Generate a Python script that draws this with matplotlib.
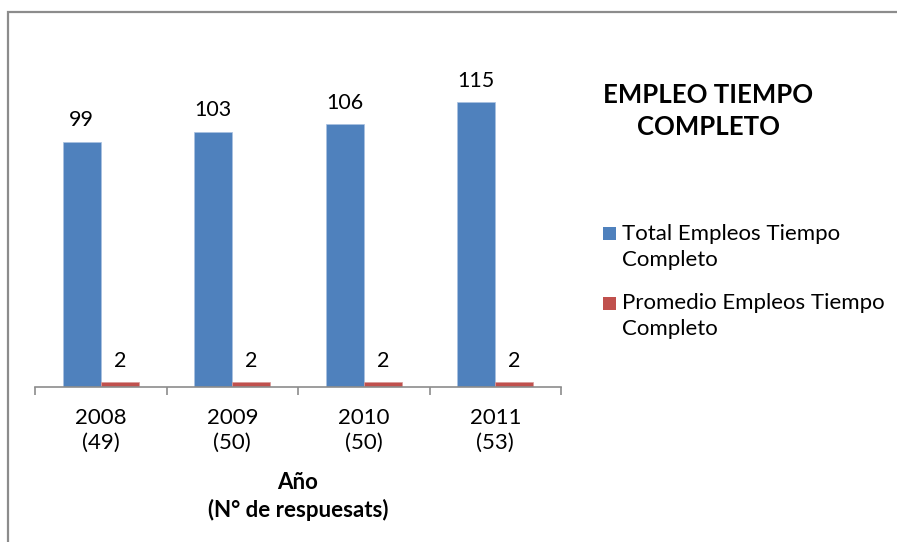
import numpy as np
import matplotlib
matplotlib.use("Agg")
import matplotlib.pyplot as plt
from matplotlib.patches import Rectangle

years = ["2008", "2009", "2010", "2011"]
responses = [49, 50, 50, 53]
total_empleos = [99, 103, 106, 115]
promedio_empleos = [2, 2, 2, 2]
series_names = ["Total Empleos Tiempo\nCompleto", "Promedio Empleos Tiempo\nCompleto"]
colors = ["#4F81BD", "#C0504D"]

plt.rcParams["font.family"] = ["Lato", "DejaVu Sans"]

W, H = 897, 542
fig = plt.figure(figsize=(W / 100, H / 100), dpi=100)
fig.patch.set_facecolor("white")

# outer chart frame (only top and left edges visible in the crop)
fig.patches.append(Rectangle((8 / W, -0.1), 1.2, 1.1 - 12 / H, transform=fig.transFigure,
                             fill=False, edgecolor="#8c8c8c", linewidth=1.6))

ax = fig.add_axes([35 / W, (H - 387) / H, (561 - 35) / W, (387 - 40) / H])
x = np.arange(len(years))
w = 0.29
b1 = ax.bar(x - w / 2, total_empleos, w, color=colors[0], edgecolor="#a9c1e0", linewidth=0.5)
b2 = ax.bar(x + w / 2, promedio_empleos, w, color=colors[1], edgecolor="#d99a98", linewidth=0.5)
for bars, vals in ((b1, total_empleos), (b2, promedio_empleos)):
    for r, v in zip(bars, vals):
        ax.text(r.get_x() + r.get_width() / 2, v + 4.6, str(v), ha="center", va="bottom",
                fontsize=15.5, color="black")

ax.set_xlim(-0.5, len(years) - 0.5)
ax.set_ylim(0, 140)
for s in ("top", "right", "left"):
    ax.spines[s].set_visible(False)
ax.spines["bottom"].set_color("#8c8c8c")
ax.spines["bottom"].set_linewidth(1.2)
ax.set_yticks([])
ax.set_xticks(np.arange(len(years) + 1) - 0.5, minor=True)
ax.set_xticks(x)
ax.set_xticklabels([f"{y}\n({n})" for y, n in zip(years, responses)], fontsize=16,
                   linespacing=1.3)
ax.tick_params(axis="x", which="major", length=0, pad=15)
ax.tick_params(axis="x", which="minor", length=6, width=1.2, color="#8c8c8c")
ax.set_xlabel("Año\n(N° de respuesats)", fontsize=16, fontweight="bold", linespacing=1.35,
              labelpad=14)

fig.text(708 / W, 1 - 111 / H, "EMPLEO TIEMPO\nCOMPLETO", ha="center", va="center",
         fontsize=18.5, fontweight="bold", linespacing=1.4)

# legend: square handle aligned with the first line of each wrapped label
for i, (name, c) in enumerate(zip(series_names, colors)):
    yc = 234 + i * 69
    fig.patches.append(Rectangle((603 / W, 1 - (yc + 6.5) / H), 13 / W, 13 / H,
                                 transform=fig.transFigure, facecolor=c, edgecolor="none"))
    fig.text(622 / W, 1 - (yc - 10) / H, name, ha="left", va="top", fontsize=16,
             linespacing=1.38)

fig.savefig("out.png", dpi=100, facecolor="white")
